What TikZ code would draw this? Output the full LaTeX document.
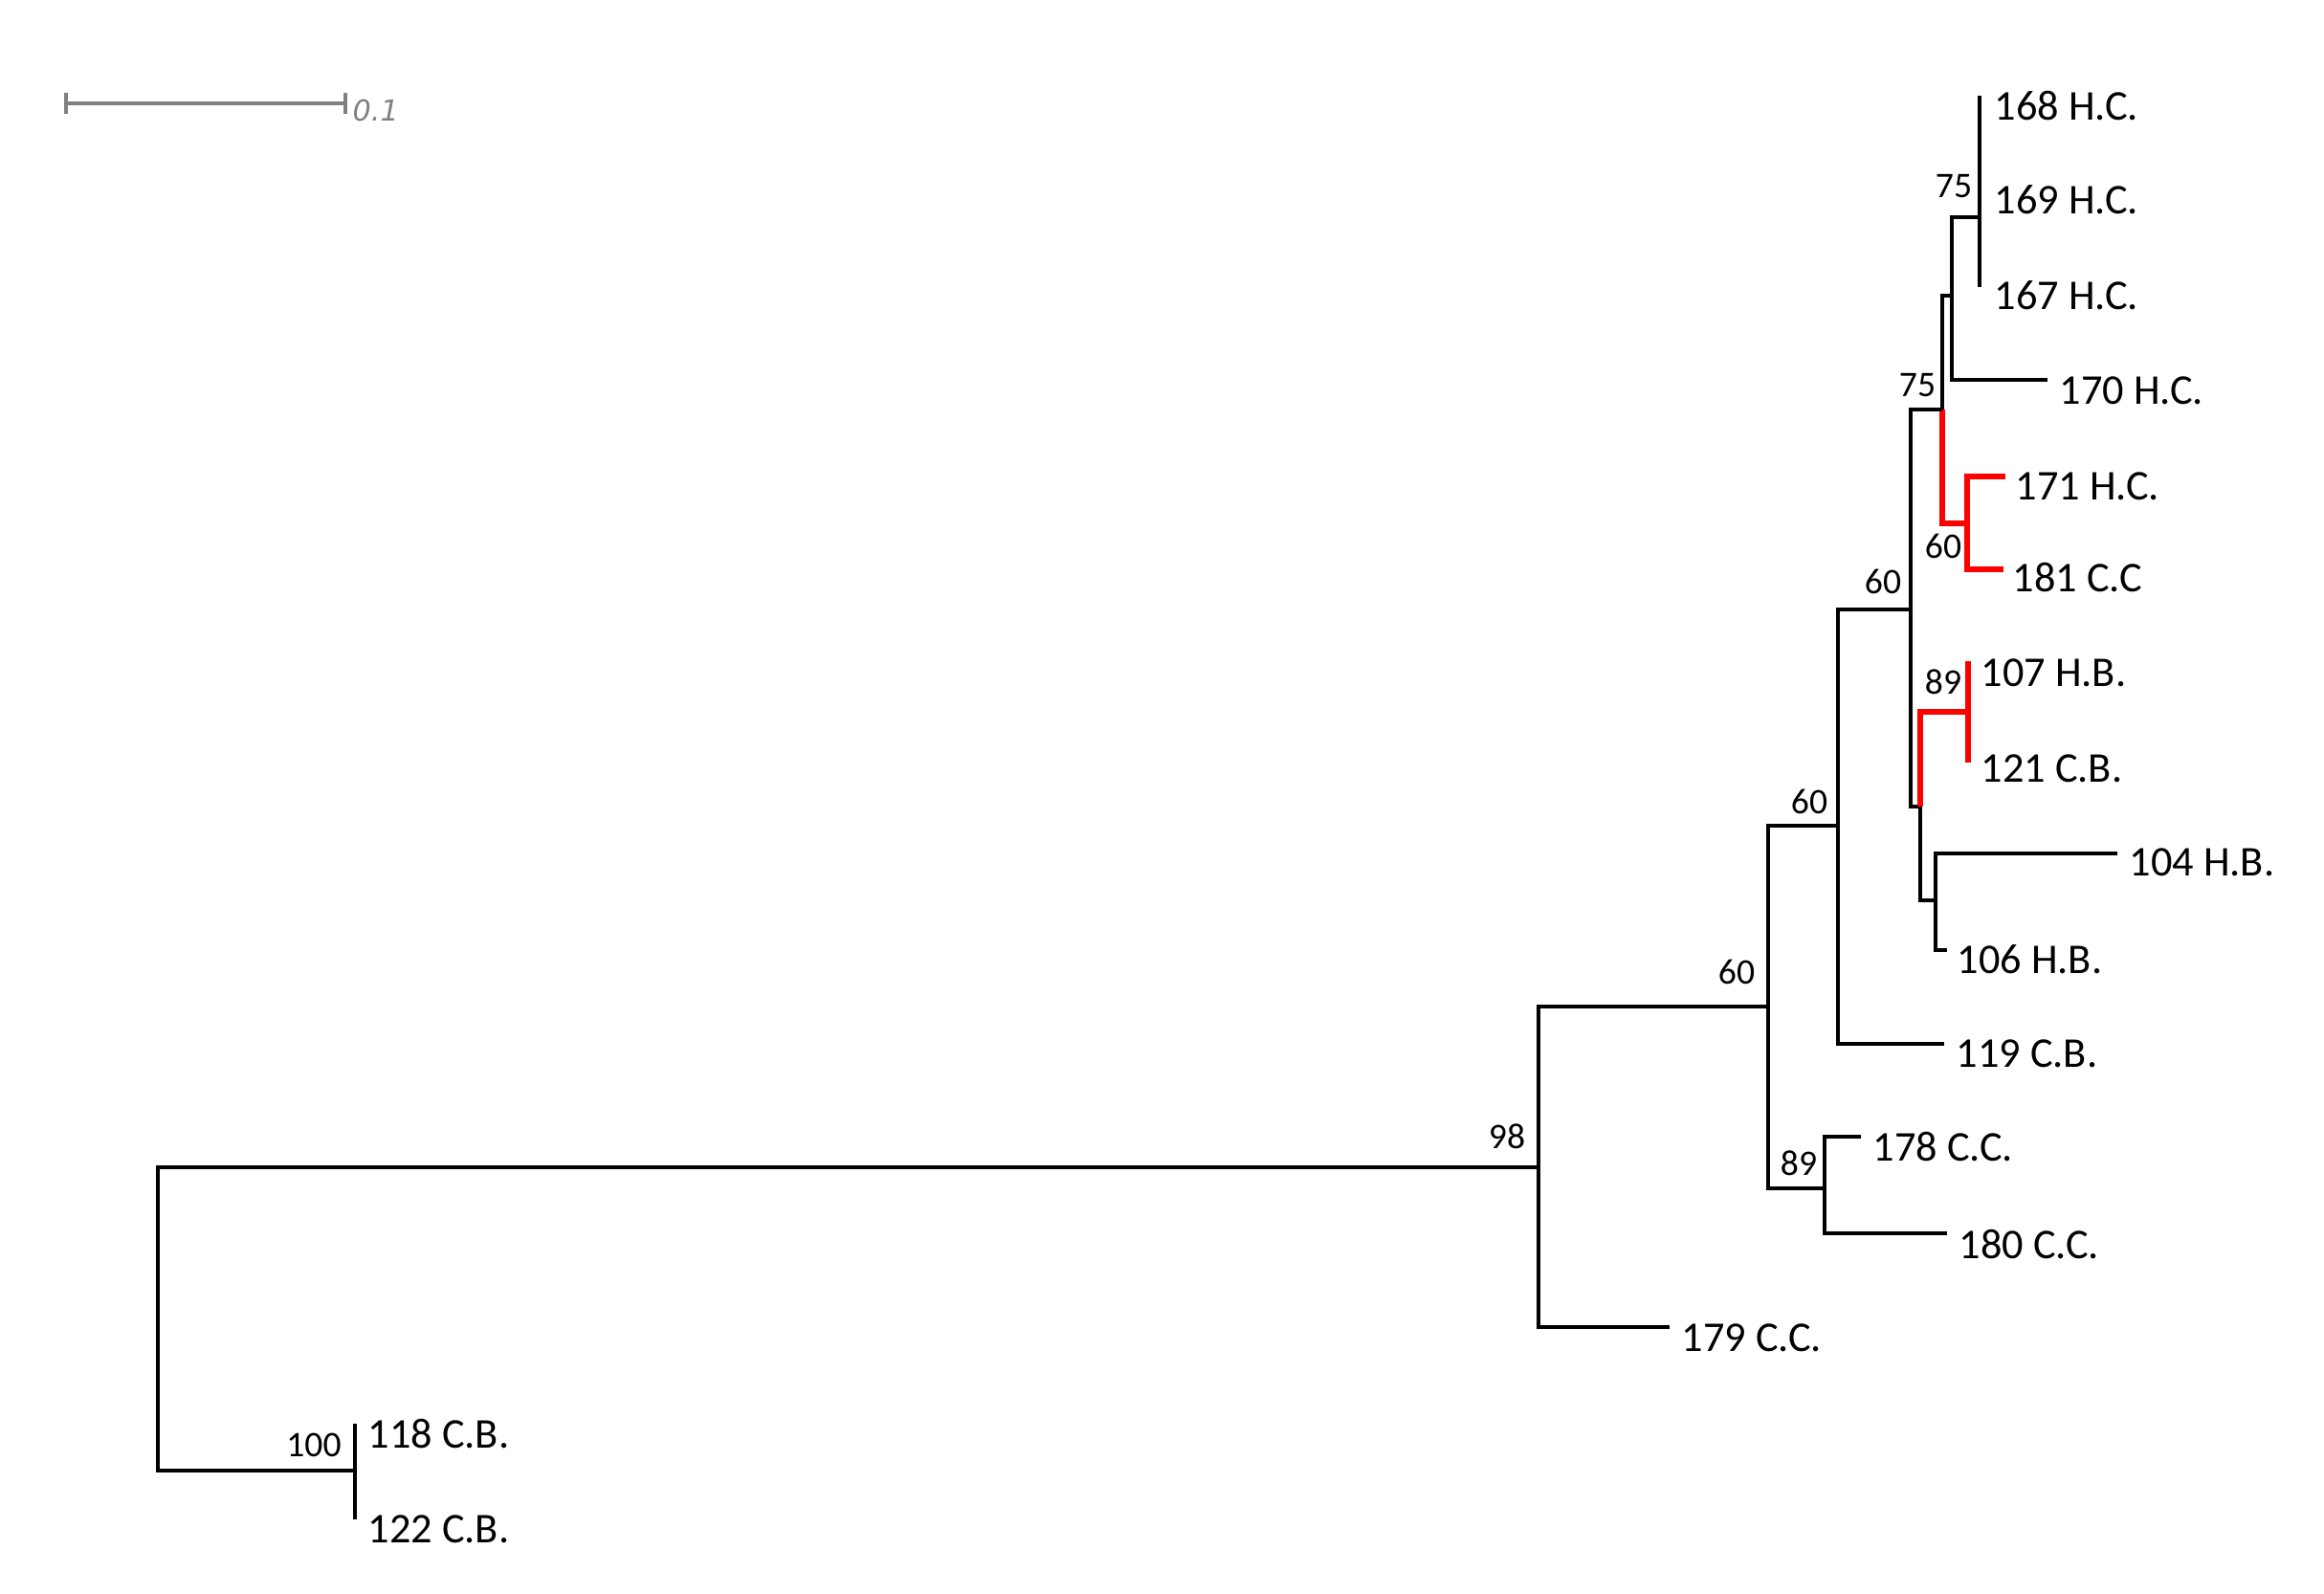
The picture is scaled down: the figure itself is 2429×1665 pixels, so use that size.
\documentclass[tikz,border=0pt]{standalone}
\usepackage{fontspec}
\setmainfont{Carlito}
\newfontfamily\scalefont{DejaVu Sans}
\definecolor{treered}{RGB}{255,0,0}
\definecolor{scalegray}{RGB}{128,128,128}
\begin{document}
\begin{tikzpicture}[x=0.01cm,y=-0.01cm,
  branch/.style={line width=0.95pt,black,line join=miter},
  redbranch/.style={line width=1.5pt,treered,line join=miter},
  leaf/.style={anchor=base west,inner sep=0pt,font=\fontsize{12.6}{14}\selectfont},
  boot/.style={anchor=center,inner sep=0pt,font=\fontsize{10.7}{12}\selectfont},
  scalebar/.style={line width=0.95pt,scalegray}]
\useasboundingbox (0,0) rectangle (2429,1665);
% leaves
\coordinate (l168) at (2069,100);
\coordinate (l169) at (2069,200);
\coordinate (l167) at (2069,300);
\coordinate (l170) at (2140,397);
\coordinate (l171) at (2096,498);
\coordinate (l181) at (2094,595);
\coordinate (l107) at (2057,691);
\coordinate (l121) at (2057,797);
\coordinate (l104) at (2213,892);
\coordinate (l106) at (2035,993);
\coordinate (l119) at (2032,1091);
\coordinate (l178) at (1945,1188);
\coordinate (l180) at (2035,1289);
\coordinate (l179) at (1745,1387);
\coordinate (l118) at (371,1488);
\coordinate (l122) at (371,1588);
% internal nodes
\coordinate (nHC) at (2069,227);
\coordinate (nA) at (2040,309);
\coordinate (n75) at (2030,428);
\coordinate (nRed) at (2056,547);
\coordinate (n60a) at (1997,637);
\coordinate (nB) at (2007,843);
\coordinate (n89r) at (2057,744);
\coordinate (nC) at (2023,941);
\coordinate (n60b) at (1921,863);
\coordinate (n60c) at (1848,1052);
\coordinate (n89) at (1907,1242);
\coordinate (n98) at (1608,1220);
\coordinate (n100) at (371,1537);
\coordinate (root) at (165,1378);
% branches
\draw[branch] (l168) -- (l167);
\draw[branch] (nHC) -| (nA) |- (l170);
\draw[branch] (nA) -| (n75);
\draw[redbranch] (n75) |- (nRed);
\draw[redbranch] (l171) -| (nRed) |- (l181);
\draw[branch] (n75) -| (n60a) |- (nB);
\draw[redbranch] (nB) |- (n89r);
\draw[redbranch] (l107) -- (l121);
\draw[branch] (nB) |- (nC);
\draw[branch] (l104) -| (nC) |- (l106);
\draw[branch] (n60a) -| (n60b) |- (l119);
\draw[branch] (n60b) -| (n60c) |- (n89);
\draw[branch] (l178) -| (n89) |- (l180);
\draw[branch] (n60c) -| (n98) |- (l179);
\draw[branch] (n98) -| (root) |- (n100);
\draw[branch] (l118) -- (l122);
% leaf labels
\node[leaf] (t168) at (2084,125) {168 H.C.};
\node[leaf] (t169) at (2084,223) {169 H.C.};
\node[leaf] (t167) at (2084,323) {167 H.C.};
\node[leaf] (t170) at (2152,422) {170 H.C.};
\node[leaf] (t171) at (2106,522) {171 H.C.};
\node[leaf] (t181) at (2103,618) {181 C.C};
\node[leaf] (t107) at (2070,717) {107 H.B.};
\node[leaf] (t121) at (2070,817) {121 C.B.};
\node[leaf] (t104) at (2225,915) {104 H.B.};
\node[leaf] (t106) at (2045,1017) {106 H.B.};
\node[leaf] (t119) at (2044,1115) {119 C.B.};
\node[leaf] (t178) at (1957,1213) {178 C.C.};
\node[leaf] (t180) at (2047,1315) {180 C.C.};
\node[leaf] (t179) at (1757,1412) {179 C.C.};
\node[leaf] (t118) at (384,1513) {118 C.B.};
\node[leaf] (t122) at (384,1612) {122 C.B.};
% bootstrap values
\node[boot] (b75a) at (2042,195) {75};
\node[boot] (b75b) at (2004,403) {75};
\node[boot] (b60r) at (2031,571) {60};
\node[boot] (b60a) at (1968,608) {60};
\node[boot] (b89r) at (2031,713) {89};
\node[boot] (b60b) at (1891,838) {60};
\node[boot] (b60c) at (1815,1016) {60};
\node[boot] (b98) at (1575,1188) {98};
\node[boot] (b89) at (1880,1216) {89};
\node[boot] (b100) at (328,1510) {100};
% scale bar
\coordinate (s0) at (69,108);
\coordinate (s1) at (361,108);
\draw[scalebar] (s0) -- (s1);
\draw[scalebar] (s0) ++(0,-11) -- ++(0,22);
\draw[scalebar] (s1) ++(0,-11) -- ++(0,22);
\node[anchor=west,inner sep=0pt,text=scalegray,font=\scalefont\itshape\fontsize{8.6}{10}\selectfont] (scaletext) at (368,115) {0.1};
\end{tikzpicture}
\end{document}
